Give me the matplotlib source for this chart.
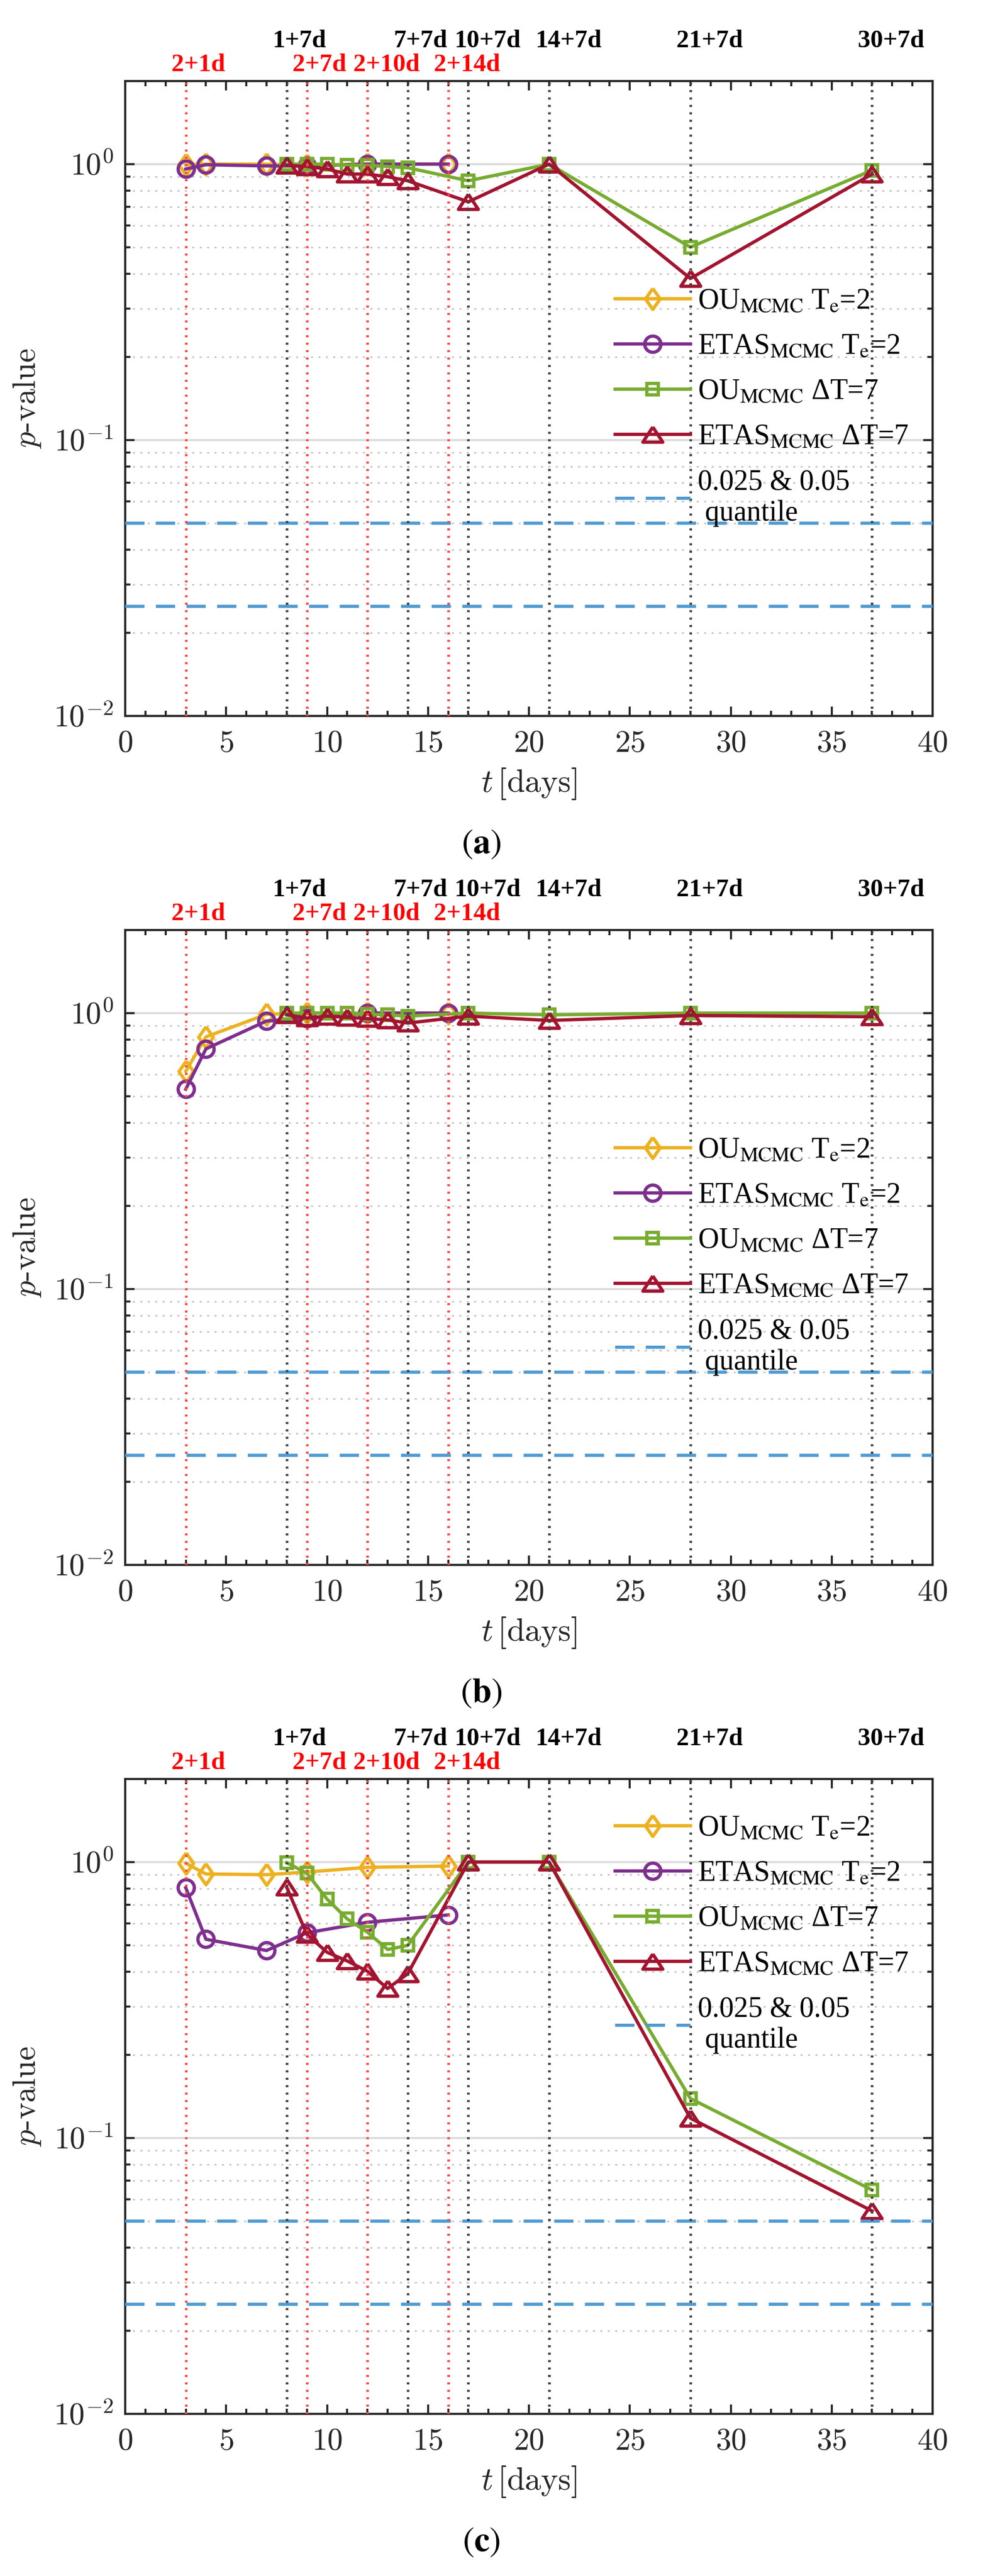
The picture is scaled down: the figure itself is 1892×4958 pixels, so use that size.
import numpy as np
import matplotlib
matplotlib.use("Agg")
import matplotlib.pyplot as plt
import matplotlib.transforms as mtransforms
from matplotlib.ticker import LogLocator, NullFormatter, MultipleLocator

plt.rcParams['font.family'] = ['Liberation Serif', 'DejaVu Serif']
plt.rcParams['mathtext.fontset'] = 'cm'

# ---------------- data ----------------
x_te = [3, 4, 7, 9, 12, 16]
x_dt = [8, 9, 10, 11, 12, 13, 14, 17, 21, 28, 37]

a_ou_te = [0.995, 1.0, 1.0, 0.99, 1.0, 1.0]
a_etas_te = [0.96, 0.995, 0.985, 0.985, 1.0, 1.0]
a_ou_dt = [1.0, 1.0, 1.0, 0.99, 0.99, 0.98, 0.97, 0.87, 1.0, 0.50, 0.95]
a_etas_dt = [0.99, 0.98, 0.96, 0.92, 0.92, 0.90, 0.87, 0.73, 1.0, 0.385, 0.92]

b_ou_te = [0.615, 0.82, 0.99, 1.0, 1.0, 1.0]
b_etas_te = [0.53, 0.742, 0.936, 0.955, 1.0, 1.0]
b_ou_dt = [1.0, 1.0, 1.0, 1.0, 0.99, 0.985, 0.975, 1.0, 0.985, 1.0, 1.0]
b_etas_dt = [0.985, 0.96, 0.975, 0.965, 0.955, 0.945, 0.92, 0.975, 0.94, 0.98, 0.97]

c_ou_te = [0.99, 0.905, 0.90, 0.92, 0.957, 0.967]
c_etas_te = [0.807, 0.525, 0.478, 0.554, 0.605, 0.643]
c_ou_dt = [0.995, 0.911, 0.734, 0.622, 0.557, 0.482, 0.499, 1.0, 1.0, 0.139, 0.0648]
c_etas_dt = [0.81, 0.547, 0.471, 0.438, 0.402, 0.348, 0.394, 1.0, 1.0, 0.118, 0.0544]

quantiles = [0.025, 0.05]

black_days = [8, 14, 17, 21, 28, 37]
black_labels = ['1+7d', '7+7d', '10+7d', '14+7d', '21+7d', '30+7d']
red_days = [3, 9, 12, 16]
red_labels = ['2+1d', '2+7d', '2+10d', '2+14d']

series_labels = [r'OU$_{\mathrm{MCMC}}$ T$_{\mathrm{e}}$=2',
                 r'ETAS$_{\mathrm{MCMC}}$ T$_{\mathrm{e}}$=2',
                 r'OU$_{\mathrm{MCMC}}$ ΔT=7',
                 r'ETAS$_{\mathrm{MCMC}}$ ΔT=7',
                 '0.025 & 0.05\n quantile']

xtick_values = [0, 5, 10, 15, 20, 25, 30, 35, 40]
ytick_values = [0.01, 0.1, 1.0]
ytick_labels = [r'$10^{-2}$', r'$10^{-1}$', r'$10^{0}$']
captions = ['a', 'b', 'c']

# ---------------- styles ----------------
C_OR = '#EDB120'
C_PU = '#7E2F8E'
C_GR = '#77AC30'
C_RD = '#A2142F'
C_BL = '#4F9BD2'
C_VR = '#FF4646'
C_VK = '#404040'

diamond = [(0, 1), (0.7, 0), (0, -1), (-0.7, 0), (0, 1)]
triangle = [(0, 0.76), (-1, -0.76), (1, -0.76), (0, 0.76)]

W, H = 1892, 4958
DPI = 200
fig = plt.figure(figsize=(W / DPI, H / DPI), dpi=DPI)

ax_left = 241 / W
ax_w = 1554 / W
ax_h = 1222 / H
tops = [156, 1790, 3424]
cap_ys = [1625, 3259, 4893]
legend_tops = [0.674, 0.674, 0.9434]

datasets = [(a_ou_te, a_etas_te, a_ou_dt, a_etas_dt),
            (b_ou_te, b_etas_te, b_ou_dt, b_etas_dt),
            (c_ou_te, c_etas_te, c_ou_dt, c_etas_dt)]

for i, (ou_te, etas_te, ou_dt, etas_dt) in enumerate(datasets):
    bottom = (H - tops[i] - 1222) / H
    ax = fig.add_axes([ax_left, bottom, ax_w, ax_h])
    ax.set_yscale('log')
    ax.set_xlim(0, 40)
    ax.set_ylim(0.01, 2)

    lw = 2.3
    h1, = ax.plot(x_te, ou_te, color=C_OR, lw=lw, marker=diamond, ms=14.5,
                  mfc='none', mew=lw, zorder=3)
    h2, = ax.plot(x_te, etas_te, color=C_PU, lw=lw, marker='o', ms=11.2,
                  mfc='none', mew=lw, zorder=3)
    h3, = ax.plot(x_dt, ou_dt, color=C_GR, lw=lw, marker='s', ms=7.9,
                  mfc='none', mew=lw, zorder=3)
    h4, = ax.plot(x_dt, etas_dt, color=C_RD, lw=lw, marker=triangle, ms=13.8,
                  mfc='none', mew=lw, zorder=3)
    h5 = None
    for q in quantiles:
        h5 = ax.axhline(q, color=C_BL, lw=2.16, dashes=(6.17, 3.66), zorder=4)

    for d in black_days:
        ax.axvline(d, color=C_VK, lw=1.8, dashes=(0.8, 2.06), zorder=4)
    for d in red_days:
        ax.axvline(d, color=C_VR, lw=1.8, dashes=(0.8, 2.06), zorder=4)

    trans = mtransforms.blended_transform_factory(ax.transData, ax.transAxes)
    for d, lab in zip(black_days, black_labels):
        ax.text(d - 0.7, 1.063, lab, transform=trans, ha='left', va='center',
                fontsize=17.5, fontweight='bold', color='black', clip_on=False)
    for d, lab in zip(red_days, red_labels):
        ax.text(d - 0.7, 1.0254, lab, transform=trans, ha='left', va='center',
                fontsize=17.5, fontweight='bold', color='#FF0000', clip_on=False)

    ax.set_axisbelow(True)
    ax.yaxis.set_minor_locator(LogLocator(base=10, subs=np.arange(2, 10)))
    ax.yaxis.set_minor_formatter(NullFormatter())
    ax.set_yticks(ytick_values, labels=ytick_labels)
    ax.set_xticks(xtick_values, labels=[f'${v}$' for v in xtick_values])
    ax.xaxis.set_minor_locator(MultipleLocator(1))
    ax.grid(True, which='major', axis='y', color='#DCDCDC', lw=1.44, ls='-')
    ax.grid(True, which='minor', axis='y', color='#C4C4C4', lw=1.08,
            dashes=(1.33, 3.43))
    ax.tick_params(which='both', direction='in', top=True, right=True,
                   color='#262626', width=1.4, labelsize=21.5, labelcolor='#262626')
    ax.tick_params(which='major', length=6.5)
    ax.tick_params(which='minor', length=3.6)
    ax.tick_params(axis='x', which='major', pad=10)
    ax.tick_params(axis='y', which='major', pad=8)
    for s in ax.spines.values():
        s.set_color('#262626')
        s.set_linewidth(1.5)

    ax.set_xlabel(r'$t\,[\mathrm{days}]$', fontsize=22.5, color='#262626', va='center')
    ax.xaxis.set_label_coords(0.5, -131 / 1222)
    ax.set_ylabel(r'$p$-value', fontsize=22, color='#262626', family='cmr10', va='center')
    ax.yaxis.set_label_coords((52 - 241) / 1554, 0.5)

    leg = ax.legend([h1, h2, h3, h4, h5], series_labels, loc='upper left',
                    bbox_to_anchor=(0.6068, legend_tops[i]), frameon=False,
                    borderpad=0, borderaxespad=0, handlelength=2.61,
                    handletextpad=0.25, labelspacing=0.63, fontsize=20)
    for t in leg.get_texts():
        t.set_math_fontfamily('stix')

    fig.text(926 / W, 1 - cap_ys[i] / H, r'$(\mathbf{' + captions[i] + r'})$',
             ha='center', va='center', fontsize=24, math_fontfamily='stix')

fig.savefig('out.png', dpi=DPI)
